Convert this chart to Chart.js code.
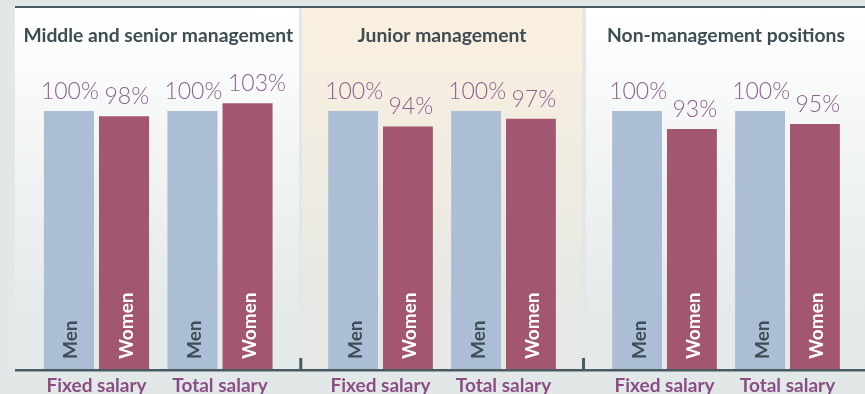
<!DOCTYPE html>
<html>
<head>
<meta charset="utf-8">
<script src="https://cdn.jsdelivr.net/npm/chart.js@4.4.0/dist/chart.umd.min.js"></script>
<style>
html, body { margin: 0; padding: 0; width: 865px; height: 394px; overflow: hidden; background: #e2e8e8; }
.rule { position: absolute; left: 15px; top: 6px; width: 850px; height: 2px; background: #4a5a62; }
.panel { position: absolute; top: 8px; height: 361px; background: linear-gradient(#ffffff, #e4e9e9 85%); }
.panel.junior { background: linear-gradient(#fbf0df, #e5e8e5 85%); }
.box { position: absolute; top: 0; }
</style>
</head>
<body>
<div class="rule"></div>
<div class="panel" style="left:15px;width:284px"></div>
<div class="panel junior" style="left:302px;width:280px"></div>
<div class="panel" style="left:586px;width:279px"></div>
<div class="box" style="left:15px"><canvas id="middle" width="284" height="403"></canvas></div>
<div class="box" style="left:299px"><canvas id="junior" width="287" height="403"></canvas></div>
<div class="box" style="left:586px"><canvas id="staff" width="279" height="403"></canvas></div>
<script>
const categories = ['Fixed salary', 'Total salary'];
const seriesNames = ['Men', 'Women'];
const groupTitles = ['Middle and senior management', 'Junior management', 'Non-management positions'];

const middleMen = [100, 100];
const middleWomen = [98, 103];
const juniorMen = [100, 100];
const juniorWomen = [94, 97];
const staffMen = [100, 100];
const staffWomen = [93, 95];

// percent over each bar, series name running up inside it
const barLabels = {
  id: 'barLabels',
  afterDatasetsDraw(chart) {
    const ctx = chart.ctx;
    const bottom = chart.scales.y.getPixelForValue(0);
    chart.data.datasets.forEach((ds, i) => {
      chart.getDatasetMeta(i).data.forEach((bar, j) => {
        const left = bar.x - bar.width / 2;
        ctx.save();
        ctx.font = '300 23px Lato';
        ctx.fillStyle = '#8b5f8e';
        ctx.textAlign = 'left';
        ctx.textBaseline = 'alphabetic';
        ctx.fillText(ds.data[j] + '%', left + ds.pctShift, bar.y - 12);
        ctx.translate(bar.x + 8.5, bottom - 10);
        ctx.rotate(-Math.PI / 2);
        ctx.font = 'bold 19px Lato';
        ctx.fillStyle = ds.nameColor;
        ctx.fillText(ds.label, 0, 0);
        ctx.restore();
      });
    });
  }
};

// group heading, centred over the plot but free to run past its edges
const groupTitle = {
  id: 'groupTitle',
  afterDraw(chart, args, opts) {
    const ctx = chart.ctx;
    const area = chart.chartArea;
    ctx.save();
    ctx.font = 'bold 19.3px Lato';
    ctx.fillStyle = '#3e4c54';
    ctx.textAlign = 'center';
    ctx.textBaseline = 'alphabetic';
    ctx.fillText(opts.text, (area.left + area.right) / 2, 42);
    ctx.restore();
  }
};

// axis line across the whole canvas, plus the small separators
const baseline = {
  id: 'baseline',
  afterDraw(chart, args, opts) {
    const ctx = chart.ctx;
    const y = chart.scales.y.getPixelForValue(0);
    ctx.save();
    ctx.fillStyle = '#4a5a62';
    ctx.fillRect(0, y, chart.width, 2.5);
    (opts.marks || []).forEach(x => ctx.fillRect(x, y - 11, 3, 11));
    ctx.restore();
  }
};

function makeChart(id, title, men, women, padLeft, padRight, marks) {
  return new Chart(document.getElementById(id), {
    type: 'bar',
    data: {
      labels: categories,
      datasets: [
        { label: seriesNames[0], data: men, backgroundColor: '#abbed5', pctShift: -3, nameColor: '#3e4e56' },
        { label: seriesNames[1], data: women, backgroundColor: '#a3566f', pctShift: 5.5, nameColor: '#ffffff' }
      ]
    },
    options: {
      responsive: false,
      animation: false,
      categoryPercentage: 0.892,
      barPercentage: 0.909,
      layout: { padding: { left: padLeft, right: padRight, top: 46.5, bottom: 0 } },
      plugins: {
        legend: { display: false },
        tooltip: { enabled: false },
        groupTitle: { text: title },
        baseline: { marks: marks }
      },
      scales: {
        x: {
          grid: { display: false, drawTicks: false },
          border: { display: false },
          ticks: { color: '#8a4e85', padding: 5.6, font: { family: 'Lato', size: 19, weight: 'bold' } }
        },
        y: { display: false, min: 0, max: 125 }
      }
    },
    plugins: [barLabels, groupTitle, baseline]
  });
}

makeChart('middle', groupTitles[0], middleMen, middleWomen, 19.75, 17.25, []);
makeChart('junior', groupTitles[1], juniorMen, juniorWomen, 20, 21, [0.3, 283]);
makeChart('staff', groupTitles[2], staffMen, staffWomen, 17, 16, []);
</script>
</body>
</html>
